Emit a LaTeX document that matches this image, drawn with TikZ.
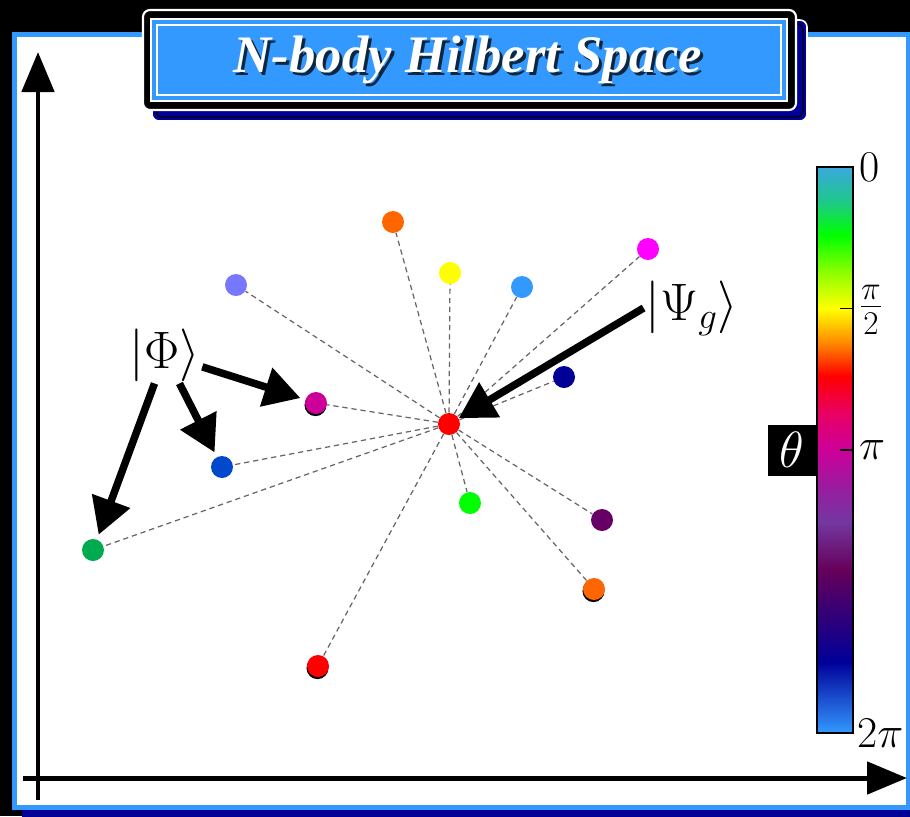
\RequirePackage{fix-cm}
\documentclass[tikz,border=0pt]{standalone}
\usepackage{fontspec}
\newfontfamily\titlefont{Liberation Serif}
\usetikzlibrary{arrows.meta,shadows}

% palette
\definecolor{panelblue}{RGB}{51,153,255}
\definecolor{navy}{RGB}{0,0,153}
\definecolor{qred}{RGB}{255,0,0}
\definecolor{qorange}{RGB}{255,102,0}
\definecolor{qyellow}{RGB}{255,255,0}
\definecolor{qsky}{RGB}{51,153,255}
\definecolor{qpink}{RGB}{255,0,255}
\definecolor{qlavender}{RGB}{119,119,255}
\definecolor{qnavy}{RGB}{0,0,153}
\definecolor{qmagenta}{RGB}{204,0,153}
\definecolor{qblue}{RGB}{0,72,204}
\definecolor{qgreen}{RGB}{0,170,80}
\definecolor{qlime}{RGB}{0,255,0}
\definecolor{qplum}{RGB}{102,0,102}
% colour bar stops
\definecolor{cbA}{RGB}{58,168,222}
\definecolor{cbB}{RGB}{30,200,140}
\definecolor{cbC}{RGB}{0,255,0}
\definecolor{cbD}{RGB}{150,255,0}
\definecolor{cbE}{RGB}{255,255,0}
\definecolor{cbF}{RGB}{255,140,0}
\definecolor{cbG}{RGB}{255,0,0}
\definecolor{cbH}{RGB}{232,0,100}
\definecolor{cbI}{RGB}{204,0,153}
\definecolor{cbJ}{RGB}{150,30,160}
\definecolor{cbK}{RGB}{115,55,160}
\definecolor{cbL}{RGB}{102,0,90}
\definecolor{cbM}{RGB}{50,0,120}
\definecolor{cbN}{RGB}{0,0,153}
\definecolor{cbO}{RGB}{51,153,255}

\begin{document}
\begin{tikzpicture}[
    x=0.02cm, y=-0.02cm,
    qstate/.style={circle, inner sep=0pt, minimum size=0.44cm, fill=#1},
    qshade/.style={qstate=#1, drop shadow={shadow xshift=-0.3pt, shadow yshift=-1.2pt, opacity=1, fill=black}},
    link/.style={dash pattern=on 3pt off 2.2pt, line width=0.7pt, black!60},
    axis/.style={line width=0.1cm, -{Triangle[length=0.8cm, width=0.64cm]}},
    pointer/.style={line width=0.15cm, -{Triangle[length=0.72cm, width=0.78cm]}, shorten >=0.1cm},
    ket/.style={font=\fontsize{30}{32}\selectfont, inner sep=1pt},
    barlabel/.style={font=\fontsize{25}{28}\selectfont, anchor=west, inner sep=1pt},
    titletext/.style={font=\titlefont\bfseries\itshape\fontsize{30}{34}\selectfont},
]
\useasboundingbox (0,0) rectangle (910,816);

% Frame
\fill[black] (0,0) rectangle (910,816);
\fill[navy] (22,42) rectangle (930,830);
\filldraw[fill=white, draw=panelblue, line width=0.1cm] (14.5,34.5) rectangle (908,807.5);

% Title box
\filldraw[fill=navy, draw=white, line width=0.9pt, rounded corners=4pt] (152,20) rectangle (807,121);
\draw[black, line width=0.8pt, rounded corners=3pt] (156,24) rectangle (803,117);
\filldraw[fill=black, draw=white, line width=1.2pt, rounded corners=4pt] (143,10) rectangle (796,110);
\filldraw[fill=panelblue, draw=white, line width=1pt] (151,19) rectangle (787,101);
\draw[white, line width=0.8pt] (157,25) rectangle (781,95);
\node[titletext, text=black, opacity=0.75] (titleshadow) at (471,63) {N-body Hilbert Space};
\node[titletext, text=white] (title) at (468,60) {N-body Hilbert Space};

% Axes
\draw[axis] (38,800) -- (38,52);
\draw[axis] (23,778) -- (907,778);

% States
\node[qstate=qred] (g) at (449,424) {};
\node[qstate=qorange] (s1) at (393,222) {};
\node[qstate=qyellow] (s2) at (450,273) {};
\node[qstate=qsky] (s3) at (522,287) {};
\node[qstate=qpink] (s4) at (648,249) {};
\node[qstate=qlavender] (s5) at (236,285) {};
\node[qstate=qnavy] (s6) at (564,377) {};
\node[qshade=qmagenta] (s7) at (316,403) {};
\node[qstate=qblue] (s8) at (222,467) {};
\node[qstate=qgreen] (s9) at (93,550) {};
\node[qstate=qlime] (s10) at (470,503) {};
\node[qstate=qplum] (s11) at (602,520) {};
\node[qshade=qorange] (s12) at (594,589) {};
\node[qshade=qred] (s13) at (318,666) {};

% Overlaps with the ground state
\draw[link] (g) -- (s1);
\draw[link] (g) -- (s2);
\draw[link] (g) -- (s3);
\draw[link] (g) -- (s4);
\draw[link] (g) -- (s5);
\draw[link] (g) -- (s6);
\draw[link] (g) -- (s7);
\draw[link] (g) -- (s8);
\draw[link] (g) -- (s9);
\draw[link] (g) -- (s10);
\draw[link] (g) -- (s11);
\draw[link] (g) -- (s12);
\draw[link] (g) -- (s13);

% Kets and pointers
\node[ket] (phi) at (165,355) {$|\Phi\rangle$};
\node[ket] (psi) at (692,308) {$|\Psi_g\rangle$};
\draw[pointer] (phi) -- (s7);
\draw[pointer] (phi) -- (s8);
\draw[pointer] (phi) -- (s9);
\draw[pointer, shorten >=0pt] (psi.west) -- (g);

% Colour bar (0 at top, 2pi at bottom)
\shade[top color=cbA, bottom color=cbB] (817,167) rectangle (853,201);
\shade[top color=cbB, bottom color=cbC] (817,201) rectangle (853,235);
\shade[top color=cbC, bottom color=cbD] (817,235) rectangle (853,275);
\shade[top color=cbD, bottom color=cbE] (817,275) rectangle (853,308.5);
\shade[top color=cbE, bottom color=cbF] (817,308.5) rectangle (853,342);
\shade[top color=cbF, bottom color=cbG] (817,342) rectangle (853,376);
\shade[top color=cbG, bottom color=cbH] (817,376) rectangle (853,414);
\shade[top color=cbH, bottom color=cbI] (817,414) rectangle (853,450);
\shade[top color=cbI, bottom color=cbJ] (817,450) rectangle (853,490);
\shade[top color=cbJ, bottom color=cbK] (817,490) rectangle (853,522);
\shade[top color=cbK, bottom color=cbL] (817,522) rectangle (853,570);
\shade[top color=cbL, bottom color=cbM] (817,570) rectangle (853,615);
\shade[top color=cbM, bottom color=cbN] (817,615) rectangle (853,662);
\shade[top color=cbN, bottom color=cbO] (817,662) rectangle (853,733);
\draw[line width=0.6pt] (817,167) rectangle (853,733);
\draw[line width=1pt] (840,308.5) -- (853,308.5);
\draw[line width=1pt] (840,450) -- (853,450);
\node[barlabel] (l0) at (857,167) {$0$};
\node[barlabel, font=\fontsize{27}{30}\selectfont] (l1) at (857,310) {$\frac{\pi}{2}$};
\node[barlabel] (l2) at (857,450) {$\pi$};
\node[barlabel] (l3) at (855,733) {$2\pi$};
\node[fill=black, text=white, minimum width=0.98cm, minimum height=1.02cm,
      font=\fontsize{29}{31}\selectfont, anchor=east, inner sep=0pt] (theta) at (817,450) {$\theta$};

\end{tikzpicture}
\end{document}
